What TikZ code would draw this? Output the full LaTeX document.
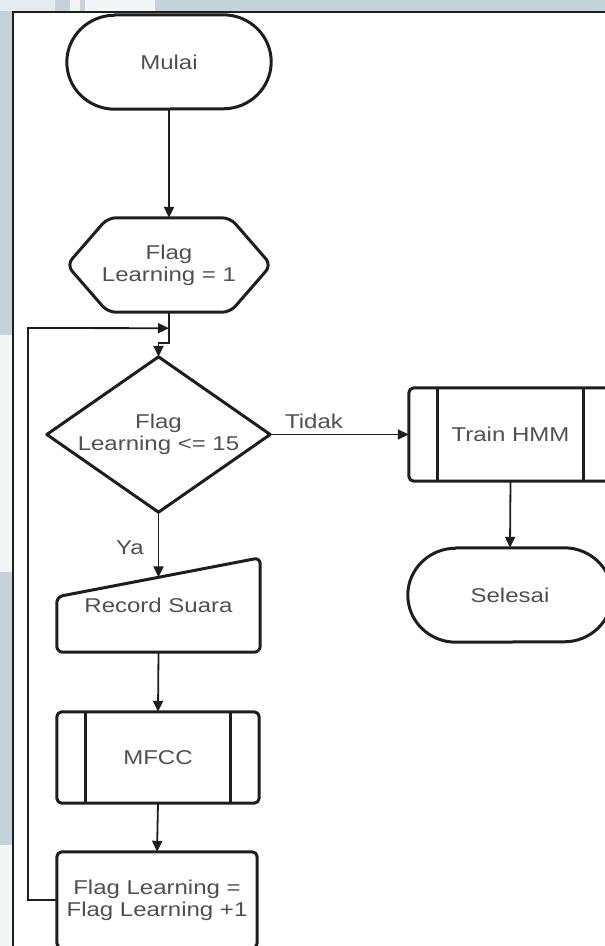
\documentclass[tikz,border=0pt]{standalone}
\usepackage{fontspec}
\setmainfont{Liberation Sans}[FakeStretch=1.2]
\usetikzlibrary{arrows.meta,calc}

\definecolor{stripblue}{HTML}{C4D3DA}
\definecolor{striplight}{HTML}{E4ECEF}
\definecolor{stripwhite}{HTML}{F2F6F7}
\definecolor{txt}{HTML}{505050}
\definecolor{ln}{HTML}{1E1E1E}

\begin{document}
\begin{tikzpicture}[x=1pt,y=1pt,
  txtstyle/.style={font=\fontsize{20}{22}\selectfont, text=txt, align=center, inner sep=0pt},
  box/.style={txtstyle, draw=none, minimum width=202pt, minimum height=94pt},
  outline/.style={draw=ln, line width=3pt, line join=round},
  conn/.style={draw=ln, line width=1.8pt, -{Triangle[length=11pt,width=10pt]}},
  frameline/.style={draw=ln, line width=2.8pt}]

\useasboundingbox (0,0) rectangle (605,-946);
\clip (0,0) rectangle (605,-946);

% background and strips
\fill[white] (0,0) rectangle (605,-946);
\fill[stripblue] (0,0) rectangle (605,-11);
\fill[striplight] (0,0) rectangle (40,-11);
\fill[striplight] (40,0) rectangle (55,-11);
\fill[stripwhite] (70,0) rectangle (80,-11);
\fill[stripwhite] (85,0) rectangle (155,-11);
\fill[stripblue] (0,-11) rectangle (12,-335);
\fill[stripwhite] (0,-335) rectangle (12,-572);
\fill[stripblue] (0,-572) rectangle (12,-845);
\fill[stripwhite] (0,-845) rectangle (12,-946);
\draw[frameline] (13,-946) -- (13,-12) -- (605,-12);

% nodes
\node[box, minimum width=204pt] (mulai) at (169,-62) {Mulai};
\node[box, minimum width=204pt] (hex) at (169,-265) {Flag\\Learning = 1};
\node[box, minimum width=223pt, minimum height=155pt] (dia) at (158.5,-434.5) {Flag\\Learning <= 15};
\node[box, minimum width=203pt, minimum height=93pt] (train) at (510.5,-434.5) {Train HMM};
\node[box, minimum width=204pt] (selesai) at (510,-595) {Selesai};
\node[box, minimum width=203pt] (rec) at (158.5,-605) {Record Suara};
\node[box, minimum height=91pt] (mfcc) at (158,-757.5) {MFCC};
\node[box, minimum width=200pt, minimum height=96pt] (upd) at (157,-900) {Flag Learning =\\Flag Learning +1};
\node[txtstyle] (tidak) at (314,-421) {Tidak};
\node[txtstyle] (ya) at (130,-548) {Ya};

% outlines
\draw[outline] ($(mulai.north west)+(48,0)$) -- ($(mulai.north east)+(-48,0)$)
  arc[start angle=90,end angle=-90,x radius=48pt,y radius=47pt]
  -- ($(mulai.south west)+(48,0)$)
  arc[start angle=270,end angle=90,x radius=48pt,y radius=47pt] -- cycle;
\draw[outline] ($(selesai.north west)+(48,0)$) -- ($(selesai.north east)+(-48,0)$)
  arc[start angle=90,end angle=-90,x radius=48pt,y radius=47pt]
  -- ($(selesai.south west)+(48,0)$)
  arc[start angle=270,end angle=90,x radius=48pt,y radius=47pt] -- cycle;
\draw[outline, rounded corners=8pt] (hex.west) -- ($(hex.north west)+(41,0)$)
  -- ($(hex.north east)+(-41,0)$) -- (hex.east) -- ($(hex.south east)+(-41,0)$)
  -- ($(hex.south west)+(41,0)$) -- cycle;
\draw[outline] (dia.north) -- (dia.east) -- (dia.south) -- (dia.west) -- cycle;
\draw[outline, rounded corners=5pt] (train.north west) rectangle (train.south east);
\draw[outline] ($(train.north west)+(29,0)$) -- ($(train.south west)+(29,0)$);
\draw[outline] ($(train.north east)+(-29,0)$) -- ($(train.south east)+(-29,0)$);
\draw[outline, rounded corners=6pt] ($(rec.north west)+(0,-39)$) -- (rec.north east)
  -- (rec.south east) -- (rec.south west) -- cycle;
\draw[outline, rounded corners=5pt] (mfcc.north west) rectangle (mfcc.south east);
\draw[outline] ($(mfcc.north west)+(29,0)$) -- ($(mfcc.south west)+(29,0)$);
\draw[outline] ($(mfcc.north east)+(-29,0)$) -- ($(mfcc.south east)+(-29,0)$);
\draw[outline, rounded corners=5pt] (upd.north west) rectangle (upd.south east);

% connectors
\coordinate (rectop) at ($(rec.north)+(0,-19.5)$);
\coordinate (loopx) at (28,-328);
\coordinate (loopin) at ($(hex.south)+(0,-16)$);
\draw[conn] (mulai.south) -- (hex.north);
\draw[conn] (hex.south) -- ++(0,-31) -| (dia.north);
\draw[conn] (dia.east) -- (train.west);
\draw[conn] (train.south) -- (selesai.north);
\draw[conn] (dia.south) -- (rectop);
\draw[conn] (rec.south) -- (mfcc.north);
\draw[conn] (mfcc.south) -- (upd.north);
\draw[conn] (upd.west) -| (loopx) -- (loopin);
\end{tikzpicture}
\end{document}
